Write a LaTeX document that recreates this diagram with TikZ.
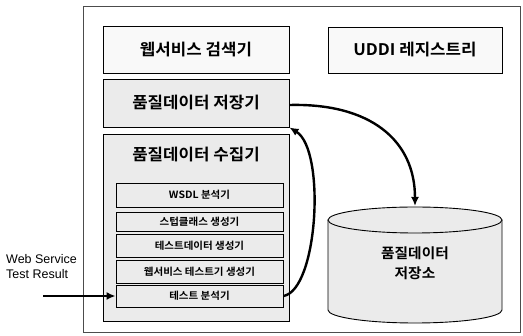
\documentclass[tikz,border=0pt]{standalone}
\usepackage{fontspec}
\setmainfont{Liberation Sans}
\newfontfamily\kr[UprightFont={* Bold}, FakeStretch=1.05]{Noto Sans CJK KR}
\usetikzlibrary{arrows.meta}
\begin{document}
\begin{tikzpicture}[x=1pt,y=-1pt,
  box/.style={draw=black, line width=0.9pt, rectangle, inner sep=0pt, font=\kr\fontsize{16}{18}\selectfont},
  shaded/.style={box, fill=gray!16},
  plain/.style={box, fill=gray!5},
  sub/.style={draw=black, line width=0.9pt, fill=gray!16, rectangle, inner sep=0pt, minimum width=167pt, font=\kr\fontsize{10}{12}\selectfont},
  lbl/.style={inner sep=0pt, font=\kr\fontsize{16}{18}\selectfont},
  arr/.style={line width=2.4pt, -{Latex[length=9pt,width=8pt]}}
]
\useasboundingbox (0,0) rectangle (523,336);
% outer frame
\node[draw=black!70, line width=0.6pt, fill=white, minimum width=437pt, minimum height=326pt, inner sep=0pt] (outer) at (301.5,169) {};
% top boxes
\node[plain, minimum width=186pt, minimum height=47pt] (search) at (196,49.5) {웹서비스 검색기};
\node[plain, minimum width=174pt, minimum height=46pt] (uddi) at (415,50) {UDDI 레지스트리};
\node[shaded, minimum width=186pt, minimum height=48pt] (store) at (196,103) {품질데이터 저장기};
% collector
\node[shaded, minimum width=186pt, minimum height=187pt] (coll) at (196,227.5) {};
\node[lbl] (colllbl) at (196,155) {품질데이터 수집기};
\node[sub, minimum height=24pt] (wsdl) at (199.5,195) {WSDL 분석기};
\node[sub, minimum height=19pt] (stub) at (199.5,221.5) {스텁클래스 생성기};
\node[sub, minimum height=23pt] (tdata) at (199.5,245.5) {테스트데이터 생성기};
\node[sub, minimum height=23pt] (wstest) at (199.5,271.5) {웹서비스 테스트기 생성기};
\node[sub, minimum height=22pt] (tana) at (199.5,296) {테스트 분석기};
% cylinder
\path[fill=gray!16, draw=black, line width=0.9pt] (328,220) -- (328,310) arc[start angle=180, end angle=0, x radius=87, y radius=13] -- (502,220);
\draw[fill=gray!16, line width=0.9pt] (415,220) ellipse [x radius=87, y radius=13];
\coordinate (cyltop) at (415,206);
\node[inner sep=0pt, align=center, font=\kr\fontsize{14}{20}\selectfont] (repo) at (415,263) {품질데이터\\저장소};
% input text
\node[anchor=north west, align=left, inner sep=0pt, font=\fontsize{12.5}{15}\selectfont] (input) at (6,254) {Web Service\\Test Result};
\coordinate (instart) at (43,296);
% arrows
\draw[arr] (instart) -- (tana.west);
\draw[arr] (store.east |- 0,105) .. controls (370,103) and (415,140) .. (cyltop);
\draw[arr] (tana.east) .. controls (318,290) and (326,150) .. (store.south east);
\end{tikzpicture}
\end{document}
